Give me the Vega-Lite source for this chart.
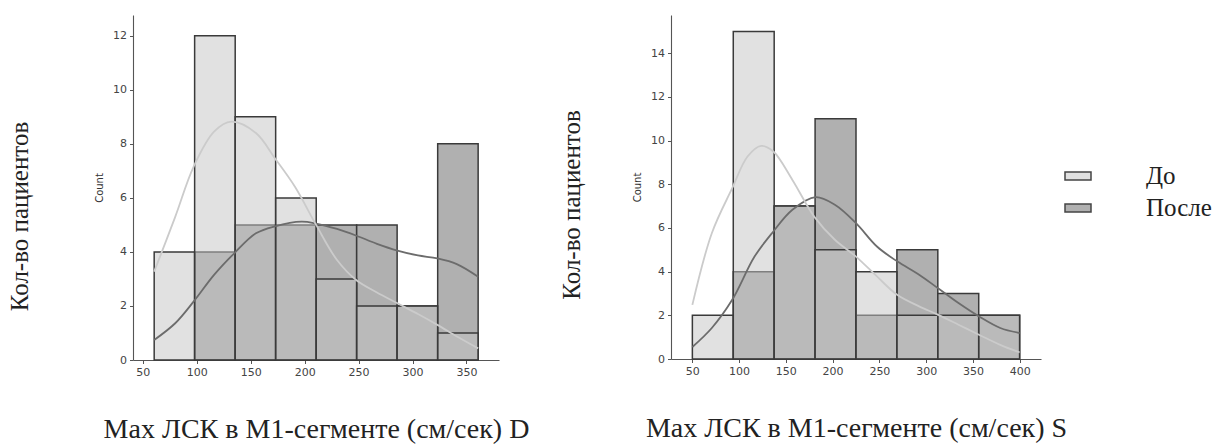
{
  "$schema": "https://vega.github.io/schema/vega-lite/v6.json",
  "background": "white",
  "padding": {"left": 7, "top": 15, "right": 0, "bottom": 0},
  "spacing": 30,
  "config": {
    "view": {"stroke": null},
    "axis": {
      "domainColor": "#555555",
      "domainWidth": 1.1,
      "tickColor": "#555555",
      "tickSize": 3.5,
      "tickWidth": 1,
      "labelFont": "DejaVu Sans",
      "labelFontSize": 11,
      "labelColor": "#444444",
      "labelPadding": 3,
      "grid": false,
      "titleFont": "DejaVu Sans",
      "titleFontWeight": "normal",
      "titleColor": "#333333"
    }
  },
  "datasets": {
    "hist": [
      {"panel": "D", "group": "После", "x0": 98.0, "x1": 135.6, "count": 4},
      {"panel": "D", "group": "После", "x0": 135.6, "x1": 173.1, "count": 5},
      {"panel": "D", "group": "После", "x0": 173.1, "x1": 210.7, "count": 5},
      {"panel": "D", "group": "После", "x0": 210.7, "x1": 248.2, "count": 5},
      {"panel": "D", "group": "После", "x0": 248.2, "x1": 285.7, "count": 5},
      {"panel": "D", "group": "После", "x0": 285.7, "x1": 323.3, "count": 2},
      {"panel": "D", "group": "После", "x0": 323.3, "x1": 360.8, "count": 8},
      {"panel": "D", "group": "До", "x0": 60.5, "x1": 98.0, "count": 4},
      {"panel": "D", "group": "До", "x0": 98.0, "x1": 135.6, "count": 12},
      {"panel": "D", "group": "До", "x0": 135.6, "x1": 173.1, "count": 9},
      {"panel": "D", "group": "До", "x0": 173.1, "x1": 210.7, "count": 6},
      {"panel": "D", "group": "До", "x0": 210.7, "x1": 248.2, "count": 3},
      {"panel": "D", "group": "До", "x0": 248.2, "x1": 285.7, "count": 2},
      {"panel": "D", "group": "До", "x0": 285.7, "x1": 323.3, "count": 2},
      {"panel": "D", "group": "До", "x0": 323.3, "x1": 360.8, "count": 1},
      {"panel": "S", "group": "После", "x0": 93.75, "x1": 137.5, "count": 4},
      {"panel": "S", "group": "После", "x0": 137.5, "x1": 181.25, "count": 7},
      {"panel": "S", "group": "После", "x0": 181.25, "x1": 225, "count": 11},
      {"panel": "S", "group": "После", "x0": 225, "x1": 268.75, "count": 2},
      {"panel": "S", "group": "После", "x0": 268.75, "x1": 312.5, "count": 5},
      {"panel": "S", "group": "После", "x0": 312.5, "x1": 356.25, "count": 3},
      {"panel": "S", "group": "После", "x0": 356.25, "x1": 400, "count": 2},
      {"panel": "S", "group": "До", "x0": 50, "x1": 93.75, "count": 2},
      {"panel": "S", "group": "До", "x0": 93.75, "x1": 137.5, "count": 15},
      {"panel": "S", "group": "До", "x0": 137.5, "x1": 181.25, "count": 7},
      {"panel": "S", "group": "До", "x0": 181.25, "x1": 225, "count": 5},
      {"panel": "S", "group": "До", "x0": 225, "x1": 268.75, "count": 4},
      {"panel": "S", "group": "До", "x0": 268.75, "x1": 312.5, "count": 2},
      {"panel": "S", "group": "До", "x0": 312.5, "x1": 356.25, "count": 2},
      {"panel": "S", "group": "До", "x0": 356.25, "x1": 400, "count": 2}
    ],
    "kde": [
      {"panel": "D", "group": "После", "v": 60.5, "d": 0.74},
      {"panel": "D", "group": "После", "v": 80, "d": 1.36},
      {"panel": "D", "group": "После", "v": 97, "d": 2.16},
      {"panel": "D", "group": "После", "v": 116, "d": 3.15},
      {"panel": "D", "group": "После", "v": 134.7, "d": 3.95},
      {"panel": "D", "group": "После", "v": 154.8, "d": 4.69},
      {"panel": "D", "group": "После", "v": 172.5, "d": 4.95},
      {"panel": "D", "group": "После", "v": 197, "d": 5.12},
      {"panel": "D", "group": "После", "v": 210.6, "d": 5.05},
      {"panel": "D", "group": "После", "v": 230, "d": 4.85},
      {"panel": "D", "group": "После", "v": 248, "d": 4.6},
      {"panel": "D", "group": "После", "v": 267, "d": 4.3},
      {"panel": "D", "group": "После", "v": 286, "d": 4.05},
      {"panel": "D", "group": "После", "v": 305, "d": 3.87},
      {"panel": "D", "group": "После", "v": 323, "d": 3.76},
      {"panel": "D", "group": "После", "v": 341, "d": 3.55},
      {"panel": "D", "group": "После", "v": 360.8, "d": 3.08},
      {"panel": "D", "group": "До", "v": 60.5, "d": 3.27},
      {"panel": "D", "group": "До", "v": 80, "d": 5.3},
      {"panel": "D", "group": "До", "v": 97, "d": 7.15},
      {"panel": "D", "group": "До", "v": 116, "d": 8.45},
      {"panel": "D", "group": "До", "v": 132, "d": 8.82},
      {"panel": "D", "group": "До", "v": 154.8, "d": 8.4},
      {"panel": "D", "group": "До", "v": 172.5, "d": 7.46},
      {"panel": "D", "group": "До", "v": 191, "d": 6.41},
      {"panel": "D", "group": "До", "v": 210.6, "d": 5.0},
      {"panel": "D", "group": "До", "v": 230, "d": 3.7},
      {"panel": "D", "group": "До", "v": 248, "d": 2.95},
      {"panel": "D", "group": "До", "v": 267, "d": 2.5},
      {"panel": "D", "group": "До", "v": 286, "d": 2.1},
      {"panel": "D", "group": "До", "v": 305, "d": 1.7},
      {"panel": "D", "group": "До", "v": 323, "d": 1.3},
      {"panel": "D", "group": "До", "v": 342, "d": 0.85},
      {"panel": "D", "group": "До", "v": 360.8, "d": 0.43},
      {"panel": "S", "group": "После", "v": 50, "d": 0.55},
      {"panel": "S", "group": "После", "v": 70.8, "d": 1.42},
      {"panel": "S", "group": "После", "v": 92.6, "d": 2.71},
      {"panel": "S", "group": "После", "v": 116.5, "d": 4.69},
      {"panel": "S", "group": "После", "v": 136.6, "d": 5.84},
      {"panel": "S", "group": "После", "v": 157, "d": 6.83},
      {"panel": "S", "group": "После", "v": 181.7, "d": 7.41},
      {"panel": "S", "group": "После", "v": 202.4, "d": 7.06},
      {"panel": "S", "group": "После", "v": 225, "d": 6.22},
      {"panel": "S", "group": "После", "v": 247.4, "d": 5.15},
      {"panel": "S", "group": "После", "v": 269, "d": 4.47},
      {"panel": "S", "group": "После", "v": 292.5, "d": 3.86},
      {"panel": "S", "group": "После", "v": 312.4, "d": 3.25},
      {"panel": "S", "group": "После", "v": 334.6, "d": 2.56},
      {"panel": "S", "group": "После", "v": 356.5, "d": 1.95},
      {"panel": "S", "group": "После", "v": 379.3, "d": 1.42},
      {"panel": "S", "group": "После", "v": 400, "d": 1.19},
      {"panel": "S", "group": "До", "v": 50, "d": 2.48},
      {"panel": "S", "group": "До", "v": 70.8, "d": 5.76},
      {"panel": "S", "group": "До", "v": 92.6, "d": 7.82},
      {"panel": "S", "group": "До", "v": 109, "d": 9.27},
      {"panel": "S", "group": "До", "v": 123.5, "d": 9.76},
      {"panel": "S", "group": "До", "v": 136.6, "d": 9.5},
      {"panel": "S", "group": "До", "v": 157, "d": 8.2},
      {"panel": "S", "group": "До", "v": 180.3, "d": 6.52},
      {"panel": "S", "group": "До", "v": 202.4, "d": 5.46},
      {"panel": "S", "group": "До", "v": 225, "d": 4.69},
      {"panel": "S", "group": "До", "v": 247.4, "d": 3.78},
      {"panel": "S", "group": "До", "v": 269, "d": 2.94},
      {"panel": "S", "group": "До", "v": 292.5, "d": 2.41},
      {"panel": "S", "group": "До", "v": 312.4, "d": 2.03},
      {"panel": "S", "group": "До", "v": 334.6, "d": 1.57},
      {"panel": "S", "group": "До", "v": 356.5, "d": 1.11},
      {"panel": "S", "group": "До", "v": 379.3, "d": 0.65},
      {"panel": "S", "group": "До", "v": 400, "d": 0.3}
    ]
  },
  "resolve": {"scale": {"color": "independent"}, "legend": {"color": "independent"}},
  "hconcat": [
    {
      "width": 366,
      "height": 345,
      "title": {"text": "Кол-во пациентов", "orient": "left", "font": "Liberation Serif", "fontSize": 25, "fontWeight": "normal", "color": "#222222", "offset": 62, "anchor": "middle", "dx": -29},
      "layer": [
        {
          "data": {"name": "hist"},
          "transform": [{"filter": "datum.panel == 'D' && datum.group == 'После'"}],
          "mark": {"type": "bar", "stroke": "#3a3a3a", "strokeWidth": 1.5, "orient": "vertical"},
          "encoding": {
            "x": {"field": "x0", "type": "quantitative", "scale": {"domain": [45.5, 375.5], "nice": false, "zero": false},
                  "axis": {"title": "Max ЛСК в М1-сегменте (см/сек) D", "titleFont": "Liberation Serif", "titleFontSize": 28, "titleColor": "#222222", "titlePadding": 38, "values": [50, 100, 150, 200, 250, 300, 350]}},
            "x2": {"field": "x1"},
            "y": {"field": "count", "type": "quantitative", "scale": {"domain": [0, 12.77], "nice": false},
                  "axis": {"title": "Count", "titleFontSize": 10, "titlePadding": 8, "values": [0, 2, 4, 6, 8, 10, 12]}},
            "y2": {"datum": 0},
            "color": {"field": "group", "type": "nominal", "scale": {"domain": ["До", "После"], "range": ["#e1e1e1", "#b0b0b0"]}, "legend": null}
          }
        },
        {
          "data": {"name": "hist"},
          "transform": [{"filter": "datum.panel == 'D' && datum.group == 'До'"}],
          "mark": {"type": "bar", "fill": "#c3c3c3", "fillOpacity": 0.5, "stroke": "#3a3a3a", "strokeWidth": 1.5, "orient": "vertical"},
          "encoding": {
            "x": {"field": "x0", "type": "quantitative"},
            "x2": {"field": "x1"},
            "y": {"field": "count", "type": "quantitative"},
            "y2": {"datum": 0}
          }
        },
        {
          "data": {"name": "kde"},
          "transform": [{"filter": "datum.panel == 'D' && datum.group == 'После'"}],
          "mark": {"type": "line", "stroke": "#6c6c6c", "strokeWidth": 1.8, "interpolate": "catmull-rom"},
          "encoding": {
            "x": {"field": "v", "type": "quantitative"},
            "y": {"field": "d", "type": "quantitative"}
          }
        },
        {
          "data": {"name": "kde"},
          "transform": [{"filter": "datum.panel == 'D' && datum.group == 'До'"}],
          "mark": {"type": "line", "stroke": "#cbcbcb", "strokeWidth": 1.8, "interpolate": "catmull-rom"},
          "encoding": {
            "x": {"field": "v", "type": "quantitative"},
            "y": {"field": "d", "type": "quantitative"}
          }
        }
      ]
    },
    {
      "width": 370,
      "height": 344,
      "title": {"text": "Кол-во пациентов", "orient": "left", "font": "Liberation Serif", "fontSize": 25, "fontWeight": "normal", "color": "#222222", "offset": 48, "anchor": "middle", "dx": -18},
      "layer": [
        {
          "data": {"name": "hist"},
          "transform": [{"filter": "datum.panel == 'S' && datum.group == 'После'"}],
          "mark": {"type": "bar", "stroke": "#3a3a3a", "strokeWidth": 1.5, "orient": "vertical"},
          "encoding": {
            "x": {"field": "x0", "type": "quantitative", "scale": {"domain": [32.5, 417.5], "nice": false, "zero": false},
                  "axis": {"title": "Max ЛСК в М1-сегменте (см/сек) S", "titleFont": "Liberation Serif", "titleFontSize": 28, "titleColor": "#222222", "titlePadding": 38, "values": [50, 100, 150, 200, 250, 300, 350, 400]}},
            "x2": {"field": "x1"},
            "y": {"field": "count", "type": "quantitative", "scale": {"domain": [0, 15.75], "nice": false},
                  "axis": {"title": "Count", "titleFontSize": 10, "titlePadding": 8, "values": [0, 2, 4, 6, 8, 10, 12, 14]}},
            "y2": {"datum": 0},
            "color": {"field": "group", "type": "nominal", "scale": {"domain": ["До", "После"], "range": ["#e1e1e1", "#b0b0b0"]},
                      "legend": {"orient": "none", "legendX": 393, "legendY": 147, "title": null, "symbolType": "M-1,-0.31H1V0.31H-1Z", "symbolSize": 676, "symbolStrokeColor": "#444444", "symbolStrokeWidth": 1.5, "symbolOpacity": 1, "labelFont": "Liberation Serif", "labelFontSize": 25, "labelColor": "#222222", "labelOffset": 54, "rowPadding": 5, "padding": 0}}
          }
        },
        {
          "data": {"name": "hist"},
          "transform": [{"filter": "datum.panel == 'S' && datum.group == 'До'"}],
          "mark": {"type": "bar", "fill": "#c3c3c3", "fillOpacity": 0.5, "stroke": "#3a3a3a", "strokeWidth": 1.5, "orient": "vertical"},
          "encoding": {
            "x": {"field": "x0", "type": "quantitative"},
            "x2": {"field": "x1"},
            "y": {"field": "count", "type": "quantitative"},
            "y2": {"datum": 0}
          }
        },
        {
          "data": {"name": "kde"},
          "transform": [{"filter": "datum.panel == 'S' && datum.group == 'После'"}],
          "mark": {"type": "line", "stroke": "#6c6c6c", "strokeWidth": 1.8, "interpolate": "catmull-rom"},
          "encoding": {
            "x": {"field": "v", "type": "quantitative"},
            "y": {"field": "d", "type": "quantitative"}
          }
        },
        {
          "data": {"name": "kde"},
          "transform": [{"filter": "datum.panel == 'S' && datum.group == 'До'"}],
          "mark": {"type": "line", "stroke": "#cbcbcb", "strokeWidth": 1.8, "interpolate": "catmull-rom"},
          "encoding": {
            "x": {"field": "v", "type": "quantitative"},
            "y": {"field": "d", "type": "quantitative"}
          }
        }
      ]
    }
  ]
}
